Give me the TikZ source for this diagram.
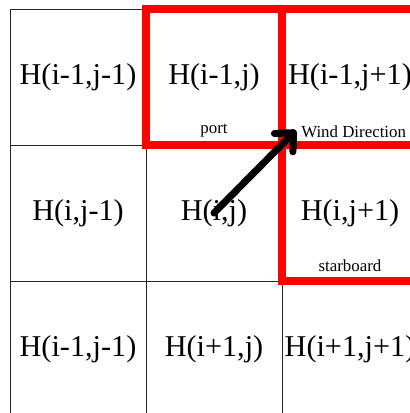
\documentclass[tikz,border=0pt]{standalone}
\usepackage{fontspec}
\setmainfont{Liberation Serif}
\usetikzlibrary{arrows.meta}
\def\CellSize{3.4}

\tikzset{
  cell/.style={draw=black!85, line width=0.6pt, minimum size=\CellSize cm,
    inner sep=0pt, outer sep=0pt, font=\fontsize{21.5}{25}\selectfont},
  redframe/.style={draw=red, line width=5pt},
  tag/.style={font=\fontsize{12}{14}\selectfont, anchor=base, inner sep=0pt},
  windarrow/.style={line width=5pt, line cap=round,
    -{Straight Barb[length=3.5mm, width=6.5mm, round]}},
}

\begin{document}
\begin{tikzpicture}
  \useasboundingbox (-0.25, 0.225) rectangle (10.0, -10.1);
  \clip (-0.25, 0.225) rectangle (10.0, -10.1);

  % grid of cells
  \node[cell] (c11) at (1.7, -1.7) {H(i-1,j-1)};
  \node[cell] (c12) at (5.1, -1.7) {H(i-1,j)};
  \node[cell] (c13) at (8.5, -1.7) {H(i-1,j+1)};
  \node[cell] (c21) at (1.7, -5.1) {H(i,j-1)};
  \node[cell] (c22) at (5.1, -5.1) {H(i,j)};
  \node[cell] (c23) at (8.5, -5.1) {H(i,j+1)};
  \node[cell] (c31) at (1.7, -8.5) {H(i-1,j-1)};
  \node[cell] (c32) at (5.1, -8.5) {H(i+1,j)};
  \node[cell] (c33) at (8.5, -8.5) {H(i+1,j+1)};

  % port, wind and starboard cells
  \draw[redframe] (c12.north west) rectangle (c12.south east);
  \draw[redframe] (c13.north west) rectangle (c13.south east);
  \draw[redframe] (c23.north west) rectangle (c23.south east);

  \node[tag] (port) at (5.1, -3.1) {port};
  \node[tag, anchor=base west] (wind) at (7.275, -3.2) {Wind Direction};
  \node[tag] (starboard) at (8.5, -6.55) {starboard};

  \coordinate (windtip) at (7.15, -3.03);
  \draw[windarrow] (c22.center) -- (windtip);
\end{tikzpicture}
\end{document}
